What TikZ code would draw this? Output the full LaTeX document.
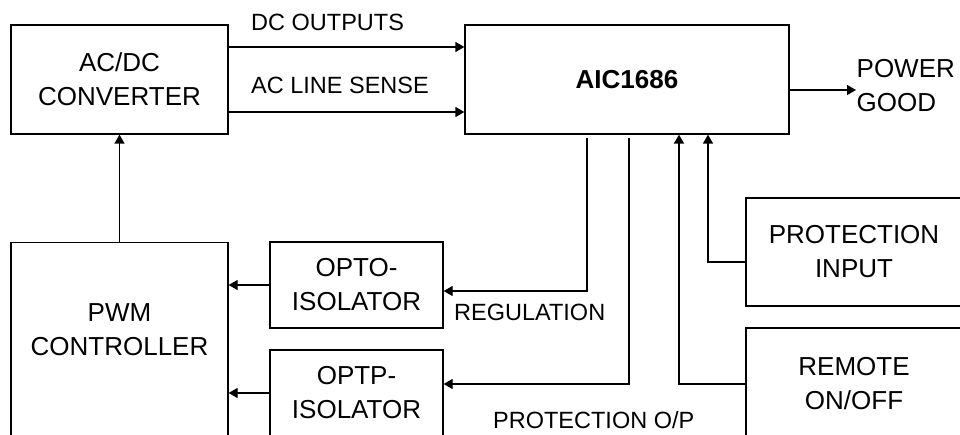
\documentclass[tikz,border=0pt]{standalone}
\usepackage{fontspec}
\setmainfont{Liberation Sans}
\usetikzlibrary{arrows.meta, positioning}

\begin{document}
\begin{tikzpicture}[x=1pt, y=-1pt,
                    >={Triangle[length=9pt, width=10pt]},
                    blk/.style={draw, line width=1.3pt, align=center, inner sep=0pt,
                                font=\fontsize{26}{34}\selectfont},
                    lbl/.style={inner sep=0pt, font=\fontsize{23.5}{28}\selectfont},
                    line/.style={line width=1.3pt}]

	\useasboundingbox (0,0) rectangle (960,435);
	\clip (0,0) rectangle (960,435);

	% blocks
	\node[blk, minimum width=217pt, minimum height=109pt] (acdc) at (119.5,79.5) {AC/DC\\CONVERTER};
	\node[blk, minimum width=324pt, minimum height=109pt, font=\fontsize{26}{34}\selectfont\bfseries] (aic) at (627,79.5) {AIC1686};
	\node[blk, minimum width=217pt, minimum height=240pt, anchor=north] (pwm) at (119.5,242) {};
	\node[blk, draw=none] (pwmtxt) at (119.5,329.5) {PWM\\CONTROLLER};
	\node[blk, minimum width=173pt, minimum height=86pt] (opto) at (356.5,285) {OPTO-\\ISOLATOR};
	\node[blk, minimum width=173pt, minimum height=86pt] (optp) at (356.5,393) {OPTP-\\ISOLATOR};
	\node[blk, minimum width=216pt, minimum height=108pt] (protin) at (854,252) {PROTECTION\\INPUT};
	\node[blk, minimum width=216pt, minimum height=112pt] (remote) at (854,384) {REMOTE\\ON/OFF};
	\node[blk, draw=none, align=left, anchor=west] (pg) at (856,85.5) {POWER\\GOOD};

	% labels
	\node[lbl, anchor=west] (dcout) at (251,22.5) {DC OUTPUTS};
	\node[lbl, anchor=west] (acsense) at (251,85.5) {AC LINE SENSE};
	\node[lbl, anchor=west] (reg) at (454,312) {REGULATION};
	\node[lbl, anchor=west] (protop) at (493,420) {PROTECTION O/P};

	% connectors
	\draw[line, ->] ([yshift=32.5pt]acdc.east) -- ([yshift=32.5pt]aic.west);
	\draw[line, ->] ([yshift=-32.5pt]acdc.east) -- ([yshift=-32.5pt]aic.west);
	\draw[line, ->] ([yshift=-10.5pt]aic.east) -- ([yshift=-10.5pt]aic.east -| pg.west);
	\draw[line, ->] (pwm.north) -- (acdc.south);
	\draw[line, ->] (opto.west) -- (opto.west -| pwm.east);
	\draw[line, ->] (optp.west) -- (optp.west -| pwm.east);
	\draw[line, ->, shorten <=3pt] ([xshift=-40pt]aic.south) |- ([yshift=-6pt]opto.east);
	\draw[line, ->, shorten <=3pt] ([xshift=2pt]aic.south) |- ([yshift=9pt]optp.east);
	\draw[line, ->] (remote.west) -| ([xshift=52pt]aic.south);
	\draw[line, ->] ([yshift=-10pt]protin.west) -| ([xshift=81pt]aic.south);
\end{tikzpicture}
\end{document}
